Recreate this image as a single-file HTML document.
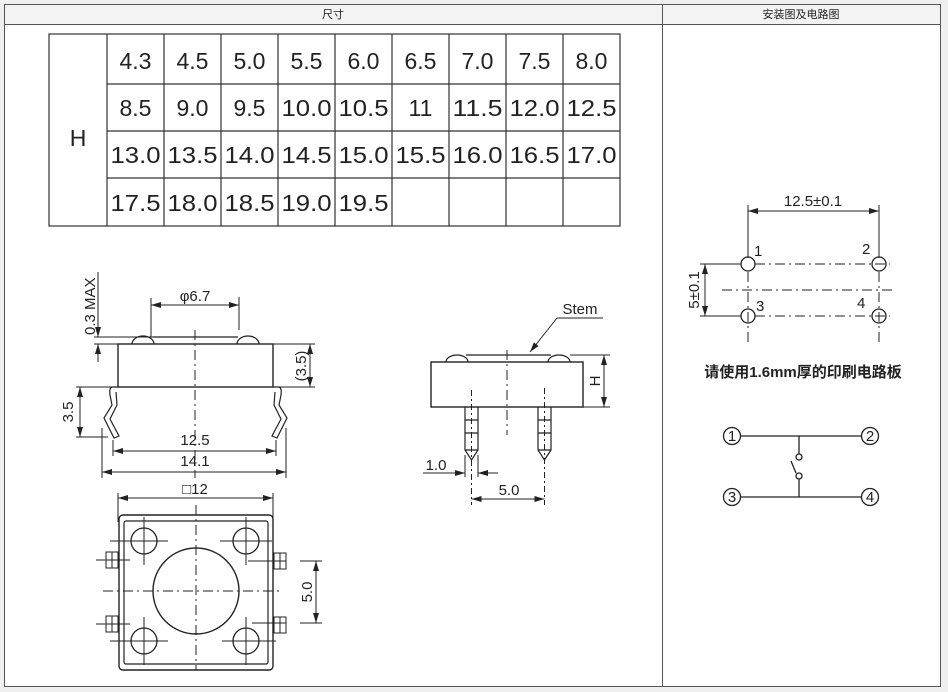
<!DOCTYPE html><html><head><meta charset="utf-8"><style>
html,body{margin:0;padding:0;background:#f0f0f0}
svg{display:block}
text{font-family:"Liberation Sans","Noto Sans CJK SC",sans-serif;fill:#222}
</style></head><body>
<svg width="948" height="692" viewBox="0 0 948 692" xmlns="http://www.w3.org/2000/svg">
<defs><marker id="a" viewBox="0 0 10 6" refX="10" refY="3" markerWidth="10" markerHeight="6" orient="auto-start-reverse" markerUnits="userSpaceOnUse"><path d="M0,0L10,3L0,6z" fill="#222"/></marker></defs>
<rect x="4.5" y="4.5" width="936" height="682" fill="#fff" stroke="#555"/>
<rect x="5" y="5" width="935" height="19" fill="#f3f3f3"/>
<line x1="4" y1="24.5" x2="941" y2="24.5" stroke="#555"/>
<line x1="662.5" y1="4" x2="662.5" y2="687" stroke="#555"/>
<text x="333" y="18" font-size="11" text-anchor="middle">尺寸</text>
<text x="801" y="18" font-size="11" text-anchor="middle">安装图及电路图</text>
<g stroke="#333" stroke-width="1.2" fill="none">
<rect x="49" y="34" width="571" height="192"/>
<line x1="107" y1="34" x2="107" y2="226"/>
<line x1="164" y1="34" x2="164" y2="226"/><line x1="221" y1="34" x2="221" y2="226"/><line x1="278" y1="34" x2="278" y2="226"/><line x1="335" y1="34" x2="335" y2="226"/><line x1="392" y1="34" x2="392" y2="226"/><line x1="449" y1="34" x2="449" y2="226"/><line x1="506" y1="34" x2="506" y2="226"/><line x1="563" y1="34" x2="563" y2="226"/>
<line x1="107" y1="84" x2="620" y2="84"/><line x1="107" y1="131" x2="620" y2="131"/><line x1="107" y1="178" x2="620" y2="178"/>
</g>
<g font-size="23" text-anchor="middle">
<text x="78" y="146">H</text>
<text x="135.5" y="69">4.3</text><text x="192.5" y="69">4.5</text><text x="249.5" y="69">5.0</text><text x="306.5" y="69">5.5</text><text x="363.5" y="69">6.0</text><text x="420.5" y="69">6.5</text><text x="477.5" y="69">7.0</text><text x="534.5" y="69">7.5</text><text x="591.5" y="69">8.0</text>
<text x="135.5" y="116">8.5</text><text x="192.5" y="116">9.0</text><text x="249.5" y="116">9.5</text><text x="306.5" y="116" textLength="50" lengthAdjust="spacingAndGlyphs">10.0</text><text x="363.5" y="116" textLength="50" lengthAdjust="spacingAndGlyphs">10.5</text><text x="420.5" y="116">11</text><text x="477.5" y="116" textLength="50" lengthAdjust="spacingAndGlyphs">11.5</text><text x="534.5" y="116" textLength="50" lengthAdjust="spacingAndGlyphs">12.0</text><text x="591.5" y="116" textLength="50" lengthAdjust="spacingAndGlyphs">12.5</text>
<text x="135.5" y="163" textLength="50" lengthAdjust="spacingAndGlyphs">13.0</text><text x="192.5" y="163" textLength="50" lengthAdjust="spacingAndGlyphs">13.5</text><text x="249.5" y="163" textLength="50" lengthAdjust="spacingAndGlyphs">14.0</text><text x="306.5" y="163" textLength="50" lengthAdjust="spacingAndGlyphs">14.5</text><text x="363.5" y="163" textLength="50" lengthAdjust="spacingAndGlyphs">15.0</text><text x="420.5" y="163" textLength="50" lengthAdjust="spacingAndGlyphs">15.5</text><text x="477.5" y="163" textLength="50" lengthAdjust="spacingAndGlyphs">16.0</text><text x="534.5" y="163" textLength="50" lengthAdjust="spacingAndGlyphs">16.5</text><text x="591.5" y="163" textLength="50" lengthAdjust="spacingAndGlyphs">17.0</text>
<text x="135.5" y="211" textLength="50" lengthAdjust="spacingAndGlyphs">17.5</text><text x="192.5" y="211" textLength="50" lengthAdjust="spacingAndGlyphs">18.0</text><text x="249.5" y="211" textLength="50" lengthAdjust="spacingAndGlyphs">18.5</text><text x="306.5" y="211" textLength="50" lengthAdjust="spacingAndGlyphs">19.0</text><text x="363.5" y="211" textLength="50" lengthAdjust="spacingAndGlyphs">19.5</text>
</g>
<g stroke="#222" stroke-width="1" fill="none">
<rect x="118" y="344" width="155" height="43" stroke-width="1.4"/>
<path d="M132,344 A11,8 0 0 1 154,344 M237,344 A11,8 0 0 1 259,344 M153,337 H238" stroke-width="1.2"/>
<line x1="195" y1="330" x2="195" y2="478" stroke-dasharray="10,4,2,4"/>
<line x1="151" y1="298" x2="151" y2="337"/><line x1="239" y1="297" x2="239" y2="330"/>
<line x1="151" y1="305" x2="239" y2="305" marker-start="url(#a)" marker-end="url(#a)"/>
<line x1="98" y1="272" x2="98" y2="337" marker-end="url(#a)"/><line x1="98" y1="344" x2="98" y2="362" marker-start="url(#a)"/>
<line x1="94" y1="337" x2="153" y2="337"/><line x1="94" y1="344" x2="118" y2="344"/>
<line x1="273" y1="344" x2="315" y2="344"/><line x1="273" y1="387" x2="315" y2="387"/>
<line x1="310" y1="344" x2="310" y2="387" marker-start="url(#a)" marker-end="url(#a)"/>
<path d="M118,387 L112,387 Q109,388 110,395 L112,405 L104,418 L114,438 L119,436 L110,419 L117,405 L116,392" stroke-width="1.2"/>
<path d="M273,387 L279,387 Q282,388 281,395 L279,405 L287,418 L277,438 L272,436 L281,419 L274,405 L275,392" stroke-width="1.2"/>
<line x1="76" y1="387" x2="112" y2="387"/><line x1="76" y1="437" x2="108" y2="437"/>
<line x1="80" y1="387" x2="80" y2="437" marker-start="url(#a)" marker-end="url(#a)"/>
<line x1="113" y1="440" x2="113" y2="456"/><line x1="276" y1="440" x2="276" y2="456"/>
<line x1="113" y1="451" x2="276" y2="451" marker-start="url(#a)" marker-end="url(#a)"/>
<line x1="102" y1="428" x2="102" y2="478"/><line x1="286" y1="428" x2="286" y2="478"/>
<line x1="102" y1="472" x2="286" y2="472" marker-start="url(#a)" marker-end="url(#a)"/>
<line x1="118" y1="493" x2="118" y2="522"/><line x1="273" y1="493" x2="273" y2="522"/>
<line x1="118" y1="498" x2="273" y2="498" marker-start="url(#a)" marker-end="url(#a)"/>
<rect x="119" y="515" width="154" height="155" rx="4" stroke-width="1.4"/>
<rect x="124" y="521" width="144" height="143" rx="2" stroke-width="1.2"/>
<circle cx="144" cy="541" r="13" stroke-width="1.3"/><circle cx="246" cy="541" r="13" stroke-width="1.3"/>
<circle cx="144" cy="641" r="13" stroke-width="1.3"/><circle cx="246" cy="641" r="13" stroke-width="1.3"/>
<circle cx="196" cy="591" r="43" stroke-width="1.4"/>
<path d="M110,541H168 M144,517V565 M220,541H272 M246,517V565 M110,641H168 M144,617V665 M222,641H276 M246,617V665"/>
<line x1="196" y1="505" x2="196" y2="670" stroke-dasharray="10,4,2,4"/>
<line x1="103" y1="591" x2="282" y2="591" stroke-dasharray="10,4,2,4"/>
<rect x="106" y="552" width="12" height="16"/><line x1="112" y1="552" x2="112" y2="568"/><line x1="96" y1="560" x2="130" y2="560"/>
<rect x="106" y="616" width="12" height="16"/><line x1="112" y1="616" x2="112" y2="632"/><line x1="96" y1="624" x2="130" y2="624"/>
<rect x="274" y="553" width="12" height="16"/><line x1="280" y1="553" x2="280" y2="569"/><line x1="248" y1="561" x2="286" y2="561"/>
<rect x="274" y="617" width="12" height="16"/><line x1="280" y1="617" x2="280" y2="633"/><line x1="252" y1="623" x2="286" y2="623"/>
<line x1="300" y1="561" x2="322" y2="561"/><line x1="300" y1="623" x2="322" y2="623"/>
<line x1="316" y1="561" x2="316" y2="623" marker-start="url(#a)" marker-end="url(#a)"/>
<rect x="431" y="362" width="152" height="45" stroke-width="1.4"/>
<path d="M446,362 A11,7 0 0 1 468,362 M548,362 A11,7 0 0 1 570,362 M466,355 H551" stroke-width="1.2"/>
<line x1="507" y1="350" x2="507" y2="435" stroke-dasharray="10,4,2,4"/>
<line x1="557" y1="318" x2="530" y2="352" marker-end="url(#a)"/><line x1="557" y1="318" x2="603" y2="318"/>
<line x1="570" y1="355" x2="610" y2="355"/><line x1="583" y1="407" x2="610" y2="407"/>
<line x1="604" y1="355" x2="604" y2="407" marker-start="url(#a)" marker-end="url(#a)"/>
<path d="M465,407 V450 L471.5,460 L478,450 V407 M465,420H478 M465,433H478 M465,450H478" stroke-width="1.2"/>
<path d="M538,407 V450 L544.5,460 L551,450 V407 M538,420H551 M538,433H551 M538,450H551" stroke-width="1.2"/>
<line x1="471.5" y1="390" x2="471.5" y2="505" stroke-dasharray="6,3,2,3"/>
<line x1="544.5" y1="388" x2="544.5" y2="505" stroke-dasharray="6,3,2,3"/>
<line x1="465" y1="455" x2="465" y2="477"/><line x1="478" y1="455" x2="478" y2="477"/>
<line x1="423" y1="473" x2="465" y2="473" marker-end="url(#a)"/><line x1="478" y1="473" x2="498" y2="473" marker-start="url(#a)"/>
<line x1="471.5" y1="499" x2="544.5" y2="499" marker-start="url(#a)" marker-end="url(#a)"/>
<line x1="748" y1="205" x2="748" y2="258"/><line x1="879" y1="205" x2="879" y2="258"/>
<line x1="748" y1="211" x2="879" y2="211" marker-start="url(#a)" marker-end="url(#a)"/>
<circle cx="748" cy="264" r="7" stroke-width="1.3"/><circle cx="879" cy="264" r="7" stroke-width="1.3"/>
<circle cx="748" cy="316" r="7" stroke-width="1.3"/><circle cx="879" cy="316" r="7" stroke-width="1.3"/>
<g stroke-dasharray="10,4,2,4"><line x1="755" y1="264" x2="890" y2="264"/><line x1="755" y1="316" x2="890" y2="316"/><line x1="722" y1="290" x2="893" y2="290"/>
<line x1="748" y1="272" x2="748" y2="343"/><line x1="879" y1="272" x2="879" y2="343"/></g>
<line x1="700" y1="264" x2="741" y2="264"/><line x1="700" y1="316" x2="741" y2="316"/>
<line x1="705" y1="264" x2="705" y2="316" marker-start="url(#a)" marker-end="url(#a)"/>
<g stroke-width="1.3">
<circle cx="732" cy="436" r="8.5"/><circle cx="870" cy="436" r="8.5"/><circle cx="732" cy="497" r="8.5"/><circle cx="870" cy="497" r="8.5"/>
<path d="M740,436H862 M740,497H862 M799,436V454 M799,479V497 M796,473 L791,461"/>
<circle cx="799" cy="457" r="3"/><circle cx="799" cy="476" r="3"/>
</g>
</g>
<g font-size="15">
<text x="195" y="301" text-anchor="middle">φ6.7</text>
<text x="0" y="0" transform="translate(95,335) rotate(-90)">0.3 MAX</text>
<text x="0" y="0" transform="translate(306,366) rotate(-90)" text-anchor="middle">(3.5)</text>
<text x="0" y="0" transform="translate(73,412) rotate(-90)" text-anchor="middle">3.5</text>
<text x="195" y="445" text-anchor="middle">12.5</text>
<text x="195" y="466" text-anchor="middle">14.1</text>
<text x="195" y="494" text-anchor="middle">□12</text>
<text x="0" y="0" transform="translate(312,592) rotate(-90)" text-anchor="middle">5.0</text>
<text x="580" y="314" text-anchor="middle">Stem</text>
<text x="0" y="0" transform="translate(600,381) rotate(-90)" text-anchor="middle">H</text>
<text x="436" y="470" text-anchor="middle">1.0</text>
<text x="509" y="495" text-anchor="middle">5.0</text>
<text x="813" y="206" text-anchor="middle">12.5±0.1</text>
<text x="0" y="0" transform="translate(699,290) rotate(-90)" text-anchor="middle">5±0.1</text>
<text x="754" y="256">1</text><text x="862" y="254">2</text><text x="756" y="311">3</text><text x="857" y="308">4</text>
<text x="732" y="441" text-anchor="middle">1</text><text x="870" y="441" text-anchor="middle">2</text><text x="732" y="502" text-anchor="middle">3</text><text x="870" y="502" text-anchor="middle">4</text>
<text x="803" y="377" text-anchor="middle" font-size="15" font-weight="bold" fill="#333">请使用1.6mm厚的印刷电路板</text>
</g>
</svg>
</body></html>
